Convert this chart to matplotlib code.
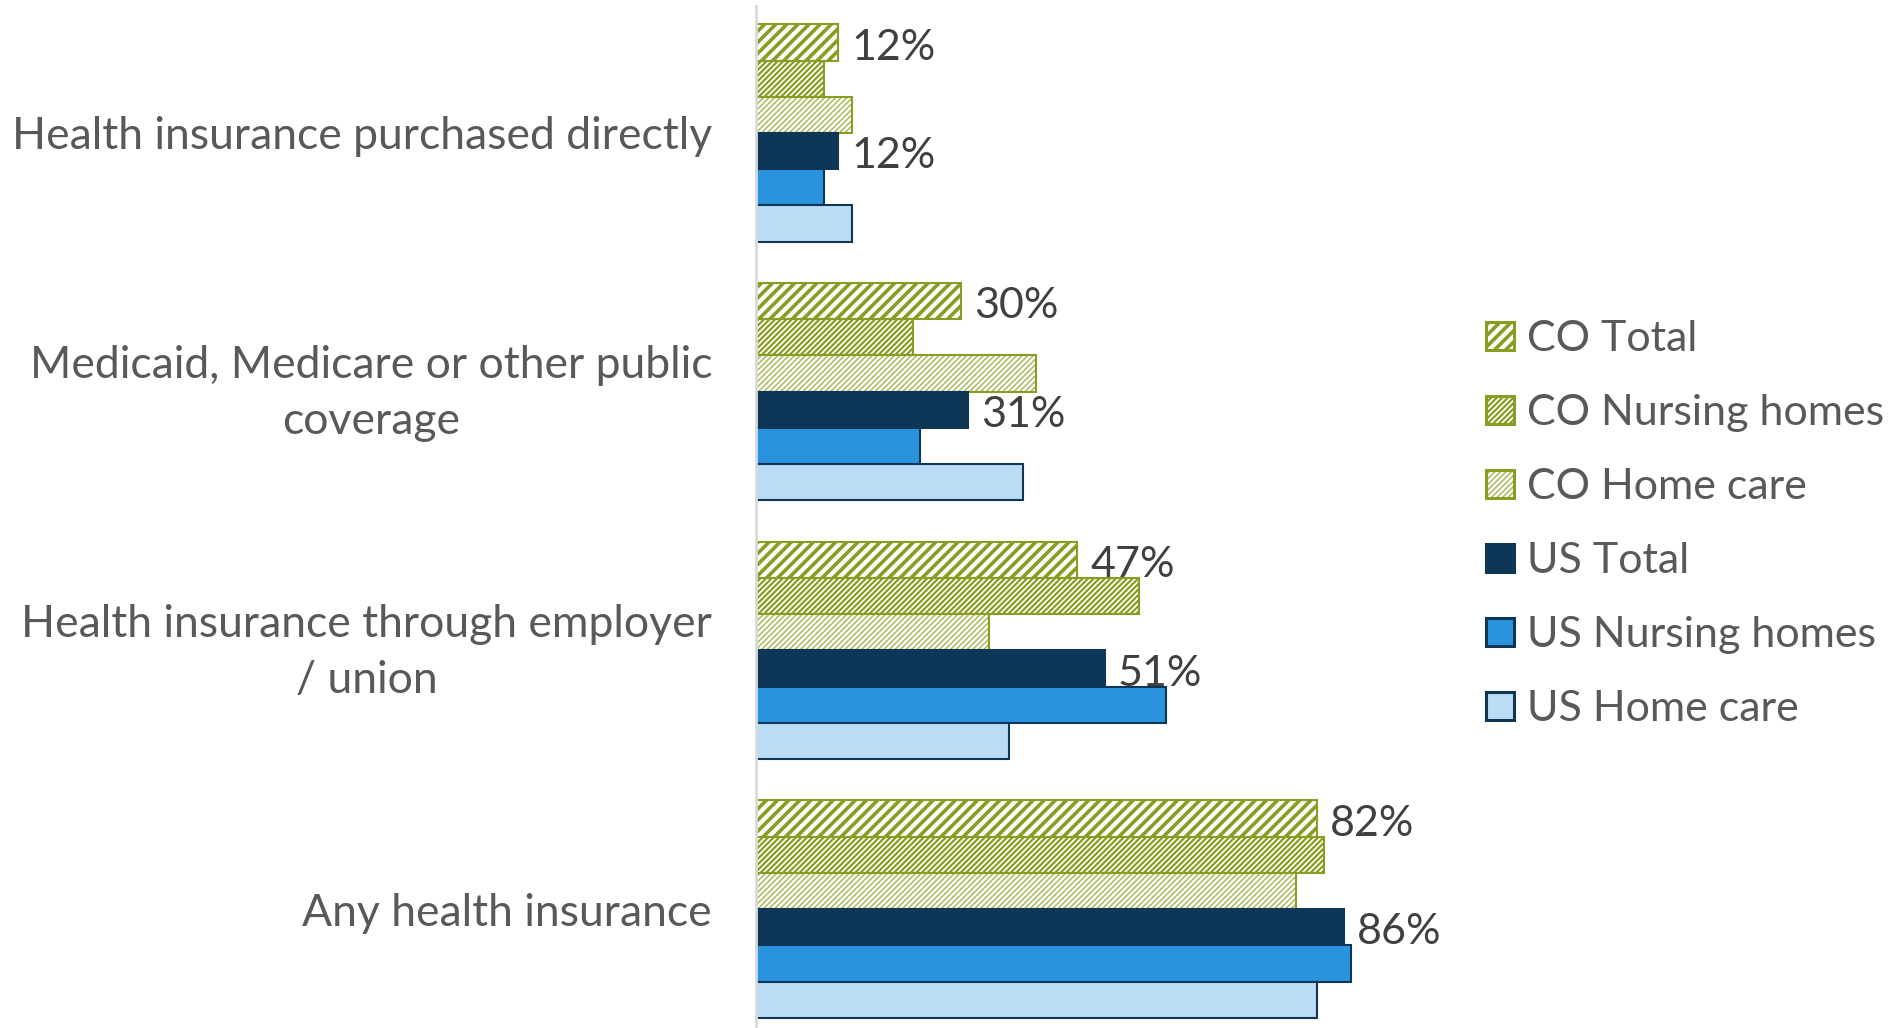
import matplotlib
matplotlib.use("Agg")
import matplotlib.pyplot as plt
from matplotlib.colors import to_rgba
from matplotlib.patches import Rectangle
from matplotlib.transforms import blended_transform_factory
import numpy as np

plt.rcParams['font.family'] = ['Lato', 'DejaVu Sans']

categories = [
    "Health insurance purchased directly",
    "Medicaid, Medicare or other public\ncoverage",
    "Health insurance through employer\n/ union",
    "Any health insurance",
]
series_names = ["CO Total", "CO Nursing homes", "CO Home care",
                "US Total", "US Nursing homes", "US Home care"]
co_total = [12, 30, 47, 82]
co_nursing = [10, 23, 56, 83]
co_home = [14, 41, 34, 79]
us_total = [12, 31, 51, 86]
us_nursing = [10, 24, 60, 87]
us_home = [14, 39, 37, 82]

GREEN = "#8A9C22"
NAVY = "#0E3757"
BLUE = "#2A93DE"
LIGHT = "#BADDF4"
TEXT = "#595959"
W, H = 1893, 1028

series = [co_total, co_nursing, co_home, us_total, us_nursing, us_home]
styles = [
    dict(facecolor="white", edgecolor=GREEN, hatch="///", hlw=2.6, hcolor=GREEN),
    dict(facecolor="white", edgecolor=GREEN, hatch="//////", hlw=1.6, hcolor=GREEN),
    dict(facecolor="white", edgecolor=GREEN, hatch="//////", hlw=1.0, hcolor="#A3B44E"),
    dict(facecolor=NAVY, edgecolor=NAVY, hatch=None, hlw=1.0, hcolor=NAVY),
    dict(facecolor=BLUE, edgecolor=NAVY, hatch=None, hlw=1.0, hcolor=NAVY),
    dict(facecolor=LIGHT, edgecolor=NAVY, hatch=None, hlw=1.0, hcolor=NAVY),
]

fig = plt.figure(figsize=(W / 100, H / 100), dpi=100)
ax = fig.add_axes([756 / W, 0, (1440 - 756) / W, 1 - 6 / H])

y = np.arange(len(categories))
h = 0.14
for k, (vals, st) in enumerate(zip(series, styles)):
    pos = y + (k - 2.5) * h
    # hatch linewidth is picked up when the patches are created
    with plt.rc_context({"hatch.linewidth": st["hlw"]}):
        bars = ax.barh(pos, vals, height=h, facecolor=st["facecolor"],
                       edgecolor=st["edgecolor"], linewidth=1.5,
                       hatch=st["hatch"])
    if st["hatch"]:
        for b in bars:
            b._hatch_color = to_rgba(st["hcolor"])
    # value labels only on the totals
    if k in (0, 3):
        for p, v in zip(pos, vals):
            ax.text(v + 1.9, p + 0.02, f"{v}%", va="center", ha="left",
                    fontsize=31, color="#404040")

ax.set_xlim(0, 100)
ax.set_ylim((H - 133) / 258.7, -(133 - 6) / 258.7)
ax.set_xticks([])
ax.set_yticks([])
for s in ["top", "right", "bottom"]:
    ax.spines[s].set_visible(False)
ax.spines["left"].set_color("#D9D9D9")
ax.spines["left"].set_linewidth(2)

# category labels, right aligned left of the axis, centred lines
trans = blended_transform_factory(ax.transAxes, ax.transData)
for i, cat in enumerate(categories):
    dy = -0.036 if "\n" in cat else 0.0
    ax.text(-44 / 684, i + dy, cat, transform=trans, ha="right",
            va="center_baseline", multialignment="center", linespacing=1.45,
            fontsize=32, color=TEXT)

# legend drawn by hand: square swatch + label per series
for k, (name, st) in enumerate(zip(series_names, styles)):
    cy = 336 + 74 * k
    with plt.rc_context({"hatch.linewidth": st["hlw"]}):
        sw = Rectangle((1486 / W, 1 - (cy + 14) / H), 28 / W, 28 / H,
                       transform=fig.transFigure, facecolor=st["facecolor"],
                       edgecolor=st["edgecolor"], linewidth=2.2,
                       hatch=st["hatch"])
    if st["hatch"]:
        sw._hatch_color = to_rgba(st["hcolor"])
    fig.add_artist(sw)
    fig.text(1527 / W, 1 - (cy + 3) / H, name, ha="left", va="center",
             fontsize=31, color=TEXT)

fig.savefig("out.png", dpi=100)
